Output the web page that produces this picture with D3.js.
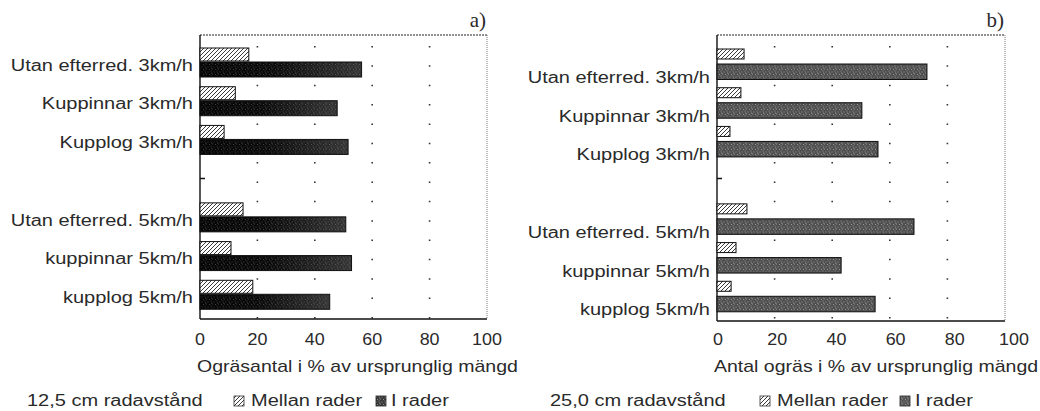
<!DOCTYPE html>
<html>
<head>
<meta charset="utf-8">
<script src="https://cdn.jsdelivr.net/npm/d3@7"></script>
<style>
  html, body { margin: 0; padding: 0; background: #fff; }
  svg { display: block; }
  text { font-family: "Liberation Sans", Arial, Helvetica, sans-serif; fill: #2a2a2a; }
</style>
</head>
<body>
<svg id="chart" width="1040" height="411"></svg>
<script>
// Treatments (the empty entry is the spacer between 3 km/h and 5 km/h)
const categories = [
  "Utan efterred. 3km/h", "Kuppinnar 3km/h", "Kupplog 3km/h", "",
  "Utan efterred. 5km/h", "kuppinnar 5km/h", "kupplog 5km/h"
];
// a) 12,5 cm row spacing, % of original weed count
const mellanA = [17, 12.3, 8.4, null, 15, 10.8, 18.4];
const iRaderA = [56.3, 47.8, 51.6, null, 50.8, 52.8, 45.2];
// b) 25,0 cm row spacing, % of original weed count
const mellanB = [9.4, 8.3, 4.5, null, 10.4, 6.6, 4.9];
const iRaderB = [72.9, 50.3, 55.9, null, 68.4, 43.1, 54.9];
const xTicks = [0, 20, 40, 60, 80, 100];
const seriesNames = ["Mellan rader", "I rader"];

const svg = d3.select("#chart");
const defs = svg.append("defs");

// diagonal hatch for "Mellan rader"
const hatch = defs.append("pattern").attr("id", "hatch")
  .attr("patternUnits", "userSpaceOnUse").attr("width", 4).attr("height", 4);
hatch.append("rect").attr("width", 4).attr("height", 4).attr("fill", "#fff");
hatch.append("path").attr("d", "M-1,1 l2,-2 M0,4 l4,-4 M3,5 l2,-2")
  .attr("stroke", "#222").attr("stroke-width", 0.9);

// stipple dots laid over the solid bars
function stipple(id, color, op) {
  const p = defs.append("pattern").attr("id", id)
    .attr("patternUnits", "userSpaceOnUse").attr("width", 6).attr("height", 5);
  [[0.5, 0.5], [3.5, 1.5], [2, 3.5], [5, 4], [1, 2.5]].forEach(([x, y]) =>
    p.append("rect").attr("x", x).attr("y", y).attr("width", 1).attr("height", 1)
      .attr("fill", color).attr("opacity", op));
}
stipple("dotsA", "#aaa", 0.35);
stipple("dotsB", "#c8c8c8", 0.6);

// dark bars in a) fade from black to a greyer right end
const gA = defs.append("linearGradient").attr("id", "fadeA");
gA.append("stop").attr("offset", "0%").attr("stop-color", "#050505");
gA.append("stop").attr("offset", "45%").attr("stop-color", "#0a0a0a");
gA.append("stop").attr("offset", "100%").attr("stop-color", "#353535");

// horizontally widened text, like the print of the original figure
function label(g, x, y, str, opts = {}) {
  return g.append("text")
    .attr("transform", `translate(${x},${y}) scale(${opts.sx || 1.25},1)`)
    .attr("text-anchor", opts.anchor || "start")
    .style("font-size", (opts.size || 16) + "px")
    .style("font-family", opts.family || null)
    .text(str);
}

function panel(cfg) {
  const g = svg.append("g");
  const x = d3.scaleLinear().domain([0, 100]).range([cfg.x0, cfg.x1]);
  const y = d3.scaleBand().domain(d3.range(categories.length)).range([43, 314]);
  const top = 35, bottom = cfg.bottom;

  // dotted gridlines
  g.selectAll(".grid").data(xTicks.slice(1, -1)).join("line")
    .attr("x1", d => x(d)).attr("x2", d => x(d))
    .attr("y1", 46).attr("y2", bottom)
    .attr("stroke", "#333").attr("stroke-width", 1.6)
    .attr("stroke-dasharray", "1.5 17.85");

  // frame: solid left/bottom, dotted top/right
  g.append("line").attr("x1", cfg.x0).attr("x2", cfg.x1).attr("y1", top).attr("y2", top)
    .attr("stroke", "#222").attr("stroke-width", 1.2).attr("stroke-dasharray", "2 1");
  g.append("line").attr("x1", cfg.x1).attr("x2", cfg.x1).attr("y1", top).attr("y2", bottom)
    .attr("stroke", "#777").attr("stroke-width", 1).attr("stroke-dasharray", "1 1");
  g.append("line").attr("x1", cfg.x0).attr("x2", cfg.x1).attr("y1", bottom).attr("y2", bottom)
    .attr("stroke", "#111").attr("stroke-width", 1.4);
  g.append("line").attr("x1", cfg.x0).attr("x2", cfg.x0).attr("y1", top).attr("y2", bottom)
    .attr("stroke", "#111").attr("stroke-width", 1.4);

  // separator tick at the gap between the speed groups
  const gaps = d3.range(categories.length).filter(i => categories[i] === "");
  g.selectAll(".ytick").data(gaps).join("line")
    .attr("x1", cfg.x0).attr("x2", cfg.x0 + 5)
    .attr("y1", i => y(i) + y.bandwidth() / 2).attr("y2", i => y(i) + y.bandwidth() / 2)
    .attr("stroke", "#111").attr("stroke-width", 1.5);

  const idx = d3.range(categories.length).filter(i => categories[i] !== "");

  // "Mellan rader" bars
  g.selectAll(".mellan").data(idx).join("rect")
    .attr("x", x(0)).attr("y", i => y(i) + cfg.hY)
    .attr("width", i => x(cfg.mellan[i]) - x(0)).attr("height", cfg.hH)
    .attr("fill", "url(#hatch)").attr("stroke", "#111").attr("stroke-width", 1);

  // "I rader" bars
  g.selectAll(".irader").data(idx).join("rect")
    .attr("x", x(0)).attr("y", i => y(i) + cfg.dY)
    .attr("width", i => x(cfg.irader[i]) - x(0)).attr("height", cfg.dH)
    .attr("fill", cfg.darkFill).attr("stroke", "#111").attr("stroke-width", 1);
  g.selectAll(".iraderDots").data(idx).join("rect")
    .attr("x", x(0) + 1).attr("y", i => y(i) + cfg.dY + 1)
    .attr("width", i => x(cfg.irader[i]) - x(0) - 2).attr("height", cfg.dH - 2)
    .attr("fill", cfg.dots);

  // category labels
  idx.forEach(i => label(g, cfg.x0 - 7, y(i) + cfg.labelDy, categories[i], { anchor: "end", sx: 1.25 }));

  // x tick labels
  xTicks.forEach(t => label(g, cfg.tickX(t), 345, String(t), { anchor: "middle", sx: 1.12 }));

  // axis title
  label(g, cfg.x0 - 3, 372, cfg.title, { sx: 1.22 });

  // panel letter
  label(g, cfg.x1 - 1, 27, cfg.letter, { anchor: "end", sx: 1, size: 21, family: "'Liberation Serif', 'Times New Roman', serif" });

  // legend
  const ly = 406;
  label(g, cfg.legX, ly, cfg.spacing, { sx: 1.25 });
  g.append("rect").attr("x", cfg.legBox1).attr("y", ly - 10).attr("width", 10).attr("height", 10)
    .attr("fill", "url(#hatch)").attr("stroke", "#333").attr("stroke-width", 0.8);
  label(g, cfg.legBox1 + 17, ly, seriesNames[0], { sx: 1.25 });
  g.append("rect").attr("x", cfg.legBox2).attr("y", ly - 10).attr("width", 10).attr("height", 10)
    .attr("fill", cfg.legendDark).attr("stroke", "#222").attr("stroke-width", 0.8);
  g.append("rect").attr("x", cfg.legBox2).attr("y", ly - 10).attr("width", 10).attr("height", 10)
    .attr("fill", "url(#dotsB)");
  label(g, cfg.legBox2 + 15, ly, seriesNames[1], { sx: 1.25 });
}

panel({
  x0: 200, x1: 487, bottom: 319,
  mellan: mellanA, irader: iRaderA,
  hY: 5, hH: 13, dY: 19, dH: 15,
  darkFill: "url(#fadeA)", dots: "url(#dotsA)", legendDark: "#3a3a3a",
  labelDy: 27.7,
  tickX: t => 200 + t * 2.87,
  title: "Ogräsantal i % av ursprunglig mängd",
  letter: "a)",
  spacing: "12,5 cm radavstånd",
  legX: 27, legBox1: 234, legBox2: 376
});

panel({
  x0: 717, x1: 1005, bottom: 321,
  mellan: mellanB, irader: iRaderB,
  hY: 6, hH: 10, dY: 21, dH: 15.5,
  darkFill: "#4f4f4f", dots: "url(#dotsB)", legendDark: "#555",
  labelDy: 40,
  tickX: t => 718 + t * 2.96,
  title: "Antal ogräs i % av ursprunglig mängd",
  letter: "b)",
  spacing: "25,0 cm radavstånd",
  legX: 550, legBox1: 760, legBox2: 900
});
</script>
</body>
</html>
